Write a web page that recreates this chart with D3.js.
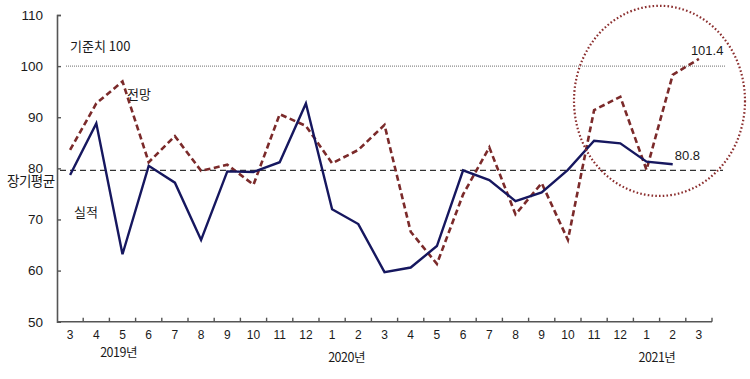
<!DOCTYPE html>
<html>
<head>
<meta charset="utf-8">
<script src="https://cdn.jsdelivr.net/npm/d3@7"></script>
<style>
  html, body { margin: 0; padding: 0; background: #fff; }
  svg { display: block; }
  text { font-family: "Liberation Sans", "Noto Sans CJK KR", sans-serif; fill: #1a1a1a; }
  .kr { font-family: "Noto Sans CJK KR", sans-serif; }
</style>
</head>
<body>
<svg id="chart" width="750" height="379"></svg>
<script>
// ---- data ----
const months = ["3","4","5","6","7","8","9","10","11","12","1","2","3","4","5","6","7","8","9","10","11","12","1","2","3"];
const actual = [78.7,88.8,63.2,80.5,77.2,66.0,79.4,79.3,81.2,92.7,72.0,69.1,59.7,60.6,64.8,79.6,77.7,73.6,75.3,79.7,85.4,84.9,81.3,80.8,null];
const forecast = [83.6,92.7,97.0,81.2,86.3,79.5,80.7,76.8,90.6,88.3,81.0,83.6,88.5,67.6,61.3,74.9,84.1,71.0,77.1,66.0,91.4,94.0,79.7,98.3,101.4];
const yTicks = [50,60,70,80,90,100,110];
const years = ["2019년","2020년","2021년"];
const yearIndex = [1.85, 10.55, 22.4];
const baseline = 100;
const longTermAvg = 79.6;
const lastActualLabel = "80.8";
const lastForecastLabel = "101.4";

// ---- layout ----
const svg = d3.select("#chart");
const mLeft = 57, mRight = 712, mTop = 15, mBottom = 321.7;

const x = d3.scaleBand().domain(d3.range(months.length)).range([mLeft, mRight]);
const xc = i => x(i) + x.bandwidth() / 2;
const y = d3.scaleLinear().domain([50, 110]).range([mBottom, mTop]);

// reference lines
svg.append("line")
  .attr("x1", 66).attr("x2", 726)
  .attr("y1", y(baseline)).attr("y2", y(baseline))
  .attr("stroke", "#8a8a8a").attr("stroke-width", 1.2)
  .attr("stroke-dasharray", "1,1");
svg.append("line")
  .attr("x1", 60).attr("x2", 723)
  .attr("y1", y(longTermAvg)).attr("y2", y(longTermAvg))
  .attr("stroke", "#333").attr("stroke-width", 1.3)
  .attr("stroke-dasharray", "6,4");

// axes
const yAxis = d3.axisLeft(y).tickValues(yTicks).tickSize(-4).tickPadding(14);
const gy = svg.append("g").attr("transform", `translate(${mLeft},0)`).call(yAxis);
gy.select(".domain").attr("stroke", "#555").attr("stroke-width", 1.6);
gy.selectAll(".tick line").attr("stroke", "#555").attr("stroke-width", 1.4);
gy.selectAll(".tick text").attr("font-size", 13.5).attr("fill", "#1a1a1a")
  .attr("font-family", "Liberation Sans, sans-serif");

const gx = svg.append("g").attr("transform", `translate(0,${mBottom})`);
gx.append("line").attr("x1", mLeft).attr("x2", mRight).attr("y1", 0).attr("y2", 0)
  .attr("stroke", "#555").attr("stroke-width", 1.6);
const bounds = d3.range(1, months.length + 1).map(i => x(i - 1) + x.bandwidth());
gx.selectAll("line.tk").data(bounds).join("line").attr("class", "tk")
  .attr("x1", d => d).attr("x2", d => d).attr("y1", 0).attr("y2", -4)
  .attr("stroke", "#555").attr("stroke-width", 1.4);
gx.selectAll("text.m").data(months).join("text").attr("class", "m")
  .attr("x", (d, i) => xc(i)).attr("y", 17)
  .attr("text-anchor", "middle").attr("font-size", 12).text(d => d);

svg.selectAll("text.yr").data(years).join("text").attr("class", "yr kr")
  .attr("x", (d, i) => x(0) + x.bandwidth() * (yearIndex[i] + 0.5))
  .attr("y", (d, i) => i === 0 ? 357 : 362)
  .attr("text-anchor", "middle").attr("font-size", 12.5).attr("letter-spacing", -0.5).text(d => d);

// lines
const lineGen = d3.line().defined(d => d != null).x((d, i) => xc(i)).y(d => y(d));
svg.append("path").datum(forecast)
  .attr("fill", "none").attr("stroke", "#7b2a2a").attr("stroke-width", 2.6)
  .attr("stroke-dasharray", "6,3.5").attr("d", lineGen);
svg.append("path").datum(actual)
  .attr("fill", "none").attr("stroke", "#16175f").attr("stroke-width", 2.4)
  .attr("stroke-linejoin", "miter").attr("d", lineGen);

// ellipse annotation
svg.append("ellipse")
  .attr("cx", xc(22) + 13).attr("cy", y(93.2))
  .attr("rx", 85.5).attr("ry", (y(74.6) - y(111.8)) / 2)
  .attr("fill", "none").attr("stroke", "#8b2e2e").attr("stroke-width", 2.2)
  .attr("stroke-dasharray", "1.6,2.2");

// text labels
svg.append("text").attr("class", "kr").attr("x", 70).attr("y", 51).attr("font-size", 13).text("기준치 100");
svg.append("text").attr("class", "kr").attr("x", 127).attr("y", 99).attr("font-size", 13).text("전망");
svg.append("text").attr("class", "kr").attr("x", 74).attr("y", 217).attr("font-size", 13).text("실적");
svg.append("text").attr("class", "kr").attr("x", 7).attr("y", 186).attr("font-size", 13.5).attr("letter-spacing", -0.5).text("장기평균");
svg.append("text").attr("x", xc(23) + 2).attr("y", y(80.8) - 4).attr("font-size", 13).text(lastActualLabel);
svg.append("text").attr("x", xc(24) - 8).attr("y", y(101.4) - 4).attr("font-size", 13).text(lastForecastLabel);
</script>
</body>
</html>
